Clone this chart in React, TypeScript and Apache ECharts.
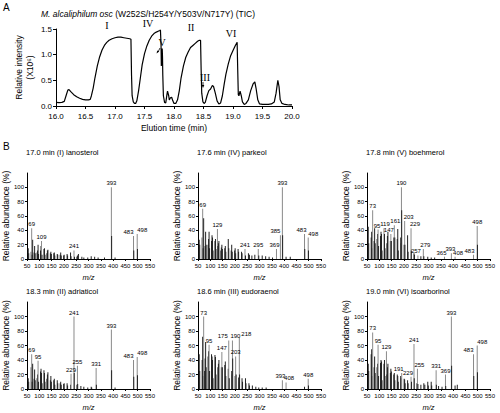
import React, { useEffect, useRef } from "react";
import * as echarts from "echarts";

// ---------- Panel A: TIC ----------
const ticTime = [
  16.0, 16.05, 16.1, 16.14, 16.17, 16.2, 16.22, 16.25, 16.3, 16.35, 16.4, 16.45, 16.5, 16.55, 16.58,
  16.6, 16.63, 16.66, 16.7, 16.74, 16.78, 16.82, 16.86, 16.9, 16.95, 17.0, 17.05, 17.1, 17.15, 17.2,
  17.25, 17.27, 17.28, 17.29, 17.31, 17.33, 17.35, 17.37, 17.4, 17.43, 17.46, 17.5, 17.54, 17.58,
  17.62, 17.66, 17.7, 17.74, 17.76, 17.77, 17.78, 17.785, 17.79, 17.8, 17.805, 17.81, 17.82, 17.84,
  17.86, 17.88, 17.89, 17.91, 17.92, 17.94, 17.96, 17.98, 18.0, 18.03, 18.06, 18.09, 18.12, 18.16,
  18.2, 18.24, 18.28, 18.32, 18.36, 18.4, 18.43, 18.45, 18.46, 18.47, 18.49, 18.51, 18.53, 18.56,
  18.59, 18.62, 18.65, 18.67, 18.7, 18.73, 18.76, 18.79, 18.82, 18.85, 18.88, 18.92, 18.96, 19.0,
  19.04, 19.07, 19.08, 19.09, 19.1, 19.12, 19.14, 19.16, 19.19, 19.22, 19.26, 19.3, 19.34, 19.37,
  19.39, 19.42, 19.45, 19.5, 19.55, 19.6, 19.65, 19.7, 19.73, 19.76, 19.78, 19.8, 19.83, 19.88,
  19.95, 20.0,
];
const ticIntensity = [
  0.07, 0.065, 0.07, 0.09, 0.2, 0.31, 0.32, 0.28, 0.22, 0.18, 0.15, 0.13, 0.12, 0.12, 0.13,
  0.2, 0.35, 0.55, 0.78, 0.96, 1.09, 1.18, 1.24, 1.28, 1.31, 1.33, 1.34, 1.34, 1.33, 1.32,
  1.31, 1.3, 0.6, 0.2, 0.08, 0.05, 0.05, 0.1, 0.3, 0.55, 0.8, 1.02, 1.17, 1.28,
  1.36, 1.41, 1.44, 1.46, 1.47, 1.48, 1.2, 0.78, 0.9, 1.12, 0.95, 0.6, 0.2, 0.07,
  0.06, 0.22, 0.29, 0.2, 0.12, 0.16, 0.17, 0.1, 0.05, 0.05, 0.12, 0.3, 0.55, 0.78,
  0.95, 1.05, 1.14, 1.18, 1.22, 1.26, 1.28, 1.28, 0.7, 0.25, 0.08, 0.05, 0.07, 0.2,
  0.3, 0.33, 0.4, 0.38, 0.25, 0.1, 0.04, 0.06, 0.2, 0.42, 0.62, 0.82, 0.98, 1.08,
  1.18, 1.24, 0.7, 0.22, 0.2, 0.29, 0.2, 0.08, 0.03, 0.05, 0.12, 0.3, 0.43, 0.47,
  0.35, 0.12, 0.04, 0.03, 0.03, 0.03, 0.04, 0.08, 0.25, 0.5, 0.38, 0.12, 0.05, 0.03,
  0.02, 0.02,
];
const ticXTicks = [16, 20, 0.5];
const ticYTicks = [0, 1.5, 0.5];
const peakNames = ["I", "IV", "V", "II", "III", "VI"];

// ---------- Panel B: mass spectra ----------
const lanosterolPeaks: [number, number][] = [
  [55, 15], [57, 8], [67, 10], [69, 43], [71, 6], [73, 27], [79, 9], [81, 18], [83, 8], [91, 9],
  [93, 12], [95, 20], [97, 7], [105, 12], [107, 18], [109, 25], [111, 6], [119, 14], [121, 15],
  [123, 6], [131, 8], [133, 12], [135, 13], [145, 8], [147, 10], [149, 7], [159, 8], [161, 9],
  [163, 5], [173, 7], [175, 6], [185, 6], [187, 9], [189, 5], [199, 5], [201, 6], [213, 7],
  [215, 5], [227, 9], [229, 4], [241, 12], [243, 3], [253, 3], [255, 5], [259, 7], [273, 3],
  [281, 2], [297, 2], [311, 4], [325, 3], [339, 2], [365, 2], [393, 100], [394, 32], [408, 2],
  [483, 32], [484, 12], [498, 35], [499, 14],
];
const lanosterolLabels = [69, 109, 241, 393, 483, 498];

const parkeolPeaks: [number, number][] = [
  [55, 27], [57, 20], [67, 30], [69, 70], [71, 15], [73, 57], [79, 18], [81, 38], [83, 20],
  [91, 20], [93, 28], [95, 38], [97, 15], [105, 25], [107, 33], [109, 30], [111, 12], [119, 25],
  [121, 28], [123, 14], [129, 42], [131, 18], [133, 22], [135, 25], [143, 12], [145, 16],
  [147, 20], [149, 14], [159, 15], [161, 18], [163, 10], [173, 28], [175, 15], [185, 12],
  [187, 20], [189, 10], [199, 12], [201, 15], [203, 8], [213, 14], [215, 10], [227, 10],
  [229, 8], [241, 14], [243, 5], [255, 8], [259, 6], [269, 5], [281, 6], [295, 14], [297, 5],
  [311, 5], [325, 4], [339, 3], [353, 2], [369, 14], [385, 33], [393, 100], [394, 33], [408, 3],
  [425, 3], [483, 35], [484, 14], [498, 30], [499, 12],
];
const parkeolLabels = [69, 129, 241, 295, 369, 385, 393, 483, 498];

const boehmerolPeaks: [number, number][] = [
  [55, 45], [57, 22], [67, 30], [69, 38], [71, 15], [73, 68], [79, 25], [81, 43], [83, 22],
  [91, 28], [93, 35], [95, 41], [97, 18], [105, 32], [107, 38], [109, 35], [111, 12], [119, 43],
  [121, 35], [123, 15], [131, 22], [133, 32], [135, 38], [145, 25], [147, 35], [149, 25],
  [159, 30], [161, 47], [163, 30], [173, 28], [175, 42], [177, 12], [187, 30], [189, 22],
  [190, 100], [191, 68], [201, 20], [203, 53], [204, 20], [215, 33], [217, 10], [229, 43],
  [230, 12], [241, 8], [243, 6], [257, 5], [269, 4], [279, 14], [281, 4], [297, 3], [311, 2],
  [325, 2], [365, 3], [393, 8], [408, 3], [483, 6], [498, 46], [499, 20],
];
const boehmerolLabels = [73, 95, 119, 147, 161, 190, 203, 229, 257, 279, 365, 393, 408, 483, 498];

const adriaticolPeaks: [number, number][] = [
  [55, 15], [57, 10], [67, 30], [69, 48], [71, 10], [73, 35], [79, 14], [81, 27], [83, 12],
  [91, 15], [93, 20], [95, 39], [97, 10], [105, 24], [107, 28], [109, 22], [111, 8], [119, 26],
  [121, 22], [123, 10], [131, 14], [133, 20], [135, 23], [145, 12], [147, 18], [149, 10],
  [159, 12], [161, 14], [163, 6], [173, 12], [175, 8], [185, 8], [187, 10], [189, 6], [199, 7],
  [201, 8], [213, 8], [215, 5], [227, 6], [229, 21], [241, 100], [242, 22], [253, 6], [255, 32],
  [256, 7], [269, 4], [281, 3], [297, 2], [311, 3], [313, 2], [331, 29], [332, 6], [393, 82],
  [394, 26], [408, 2], [483, 40], [484, 17], [498, 44], [499, 19],
];
const adriaticolLabels = [69, 95, 229, 241, 255, 331, 393, 483, 498];

const eudoraenolPeaks: [number, number][] = [
  [55, 48], [57, 25], [67, 40], [69, 72], [71, 18], [73, 100], [77, 25], [79, 42], [81, 65],
  [83, 30], [91, 45], [93, 52], [95, 61], [97, 25], [105, 48], [107, 45], [109, 40], [111, 15],
  [119, 47], [121, 44], [123, 20], [131, 30], [133, 35], [135, 40], [145, 30], [147, 51],
  [149, 30], [159, 33], [161, 38], [163, 18], [173, 28], [175, 67], [177, 15], [187, 25],
  [189, 20], [190, 67], [191, 42], [201, 18], [203, 45], [205, 20], [215, 16], [217, 10],
  [218, 71], [219, 20], [229, 15], [231, 10], [243, 15], [245, 8], [257, 8], [259, 5], [271, 5],
  [285, 3], [297, 2], [311, 2], [327, 2], [393, 12], [408, 9], [483, 3], [498, 14], [499, 5],
];
const eudoraenolLabels = [73, 95, 147, 175, 190, 203, 218, 393, 408, 498];

const isoarborinolPeaks: [number, number][] = [
  [55, 35], [57, 25], [67, 48], [69, 55], [71, 18], [73, 78], [79, 30], [81, 45], [83, 22],
  [91, 30], [93, 35], [95, 61], [97, 18], [105, 36], [107, 40], [109, 38], [111, 12], [119, 35],
  [121, 40], [123, 18], [129, 52], [131, 20], [133, 30], [135, 35], [145, 22], [147, 28],
  [149, 24], [159, 20], [161, 22], [163, 12], [173, 20], [175, 18], [177, 10], [187, 18],
  [189, 15], [191, 22], [201, 14], [203, 13], [205, 8], [215, 12], [217, 8], [229, 17],
  [231, 10], [241, 62], [242, 15], [253, 8], [255, 28], [257, 7], [269, 6], [281, 8], [285, 6],
  [297, 10], [299, 5], [311, 10], [313, 5], [331, 26], [332, 6], [341, 4], [355, 3], [369, 20],
  [370, 4], [393, 100], [394, 32], [408, 5], [417, 6], [483, 48], [484, 18], [498, 60], [499, 23],
];
const isoarborinolLabels = [73, 95, 129, 191, 229, 241, 255, 331, 369, 393, 483, 498];

const spectrumTitles = [
  "17.0 min (I) lanosterol",
  "17.6 min (IV) parkeol",
  "17.8 min (V) boehmerol",
  "18.3 min (II) adriaticol",
  "18.6 min (III) eudoraenol",
  "19.0 min (VI) isoarborinol",
];
const spectrumPeaks = [
  lanosterolPeaks, parkeolPeaks, boehmerolPeaks, adriaticolPeaks, eudoraenolPeaks, isoarborinolPeaks,
];
const spectrumLabels = [
  lanosterolLabels, parkeolLabels, boehmerolLabels, adriaticolLabels, eudoraenolLabels, isoarborinolLabels,
];
const mzTicks = [50, 550, 50];
const abundanceTicks = [0, 20, 40, 60, 80, 100];

// ---------- layout / style (not data) ----------
const SANS = "Liberation Sans, Arial, sans-serif";
const SERIF = "Liberation Serif, Times New Roman, serif";
const panelBoxes = [
  { left: 27, top: 173, width: 123, height: 86, nameGap: 12, titleY: 148 },
  { left: 198, top: 173, width: 123, height: 86, nameGap: 13, titleY: 148 },
  { left: 367, top: 173, width: 123, height: 86, nameGap: 16, titleY: 148 },
  { left: 27, top: 302, width: 123, height: 87, nameGap: 12, titleY: 287 },
  { left: 198, top: 302, width: 123, height: 87, nameGap: 13, titleY: 287 },
  { left: 367, top: 302, width: 123, height: 87, nameGap: 16, titleY: 287 },
];
// per-panel label nudges (pixels), keyed by m/z
const labelNudges: Record<number, [number, number]>[] = [
  { 483: [-5, 0], 498: [5, 0] },
  { 385: [-5, 0], 483: [-3, 0], 498: [5, 0], 369: [-2, 0] },
  { 95: [-1, 0], 119: [1, 0], 147: [-2, 0], 161: [1, 0], 203: [4, 0], 229: [4, 0], 257: [-2, 0], 279: [2, 0], 365: [-3, 0], 393: [-1, 0], 408: [3, 0], 483: [-4, 0] },
  { 483: [-5, 0], 498: [5, 0] },
  { 175: [-6, 0], 190: [3, 0], 203: [0, 0], 218: [7, 0], 393: [-2, 0], 408: [3, 0] },
  { 191: [-3, 0], 229: [-3, 0], 255: [2, 0], 483: [-5, 0], 498: [5, 0] },
];
const numeralPos = [
  [107, 25], [148, 23], [162, 42], [191, 27], [205, 77], [231, 33],
];

const axisLineStyle = { lineStyle: { color: "#000", width: 1 } };

export default function App() {
  const ref = useRef<HTMLDivElement>(null);
  useEffect(() => {
    if (!ref.current) return;
    const chart = echarts.init(ref.current, undefined, { renderer: "svg" });

    const grids: any[] = [{ left: 41, top: 29, width: 251, height: 77 }];
    const xAxes: any[] = [
      {
        gridIndex: 0, type: "value", min: ticXTicks[0], max: ticXTicks[1], interval: ticXTicks[2],
        axisLine: axisLineStyle, axisTick: { length: 3, lineStyle: { color: "#000" } },
        splitLine: { show: false },
        axisLabel: { color: "#000", fontFamily: SANS, fontSize: 8, margin: 6, formatter: (v: number) => v.toFixed(1) },
        name: "Elution time (min)", nameLocation: "middle", nameGap: 17,
        nameTextStyle: { color: "#000", fontFamily: SANS, fontSize: 8.5 },
      },
    ];
    const yAxes: any[] = [
      {
        gridIndex: 0, type: "value", min: ticYTicks[0], max: ticYTicks[1], interval: ticYTicks[2],
        axisLine: { show: true, ...axisLineStyle }, axisTick: { show: true, length: 3, lineStyle: { color: "#000" } },
        splitLine: { show: false },
        axisLabel: { color: "#000", fontFamily: SANS, fontSize: 8, margin: 4, formatter: (v: number) => v.toFixed(1) },
        name: "Relative intensity\n(X10\u2076)", nameLocation: "middle", nameGap: 21, nameRotate: 90,
        nameTextStyle: { color: "#000", fontFamily: SANS, fontSize: 8.5, lineHeight: 11 },
      },
    ];
    const series: any[] = [
      {
        type: "line", xAxisIndex: 0, yAxisIndex: 0, symbol: "none", smooth: false,
        lineStyle: { color: "#000", width: 1.2 },
        data: ticTime.map((t, i) => [t, ticIntensity[i]]),
      },
    ];

    const graphics: any[] = [
      { type: "text", x: 3, y: 2, style: { text: "A", font: `10px ${SANS}`, fill: "#000" } },
      {
        type: "text", x: 41, y: 9,
        style: {
          text: "{i|M. alcaliphilum osc} (W252S/H254Y/Y503V/N717Y) (TIC)",
          fontFamily: SANS, fontSize: 8.5, fill: "#000",
          rich: { i: { fontStyle: "italic", fontFamily: SANS, fontSize: 8.5, fill: "#000" } },
        },
      },
      { type: "text", x: 3, y: 141, style: { text: "B", font: `10px ${SANS}`, fill: "#000" } },
    ];
    peakNames.forEach((n, i) => {
      graphics.push({
        type: "text", x: numeralPos[i][0], y: numeralPos[i][1],
        style: { text: n, font: `10px ${SERIF}`, fill: "#000", align: "center", verticalAlign: "middle" },
      });
    });
    // arrows for V and III
    graphics.push(
      { type: "line", shape: { x1: 160, y1: 48, x2: 158, y2: 52 }, style: { stroke: "#000", lineWidth: 0.8 } },
      { type: "polygon", shape: { points: [[156.6, 53.5], [157.2, 50.6], [159.2, 51.6]] }, style: { fill: "#000" } },
      { type: "line", shape: { x1: 203, y1: 82, x2: 203, y2: 86 }, style: { stroke: "#000", lineWidth: 0.8 } },
      { type: "polygon", shape: { points: [[203, 88], [201.7, 85], [204.3, 85]] }, style: { fill: "#000" } },
    );

    spectrumPeaks.forEach((peaks, k) => {
      const box = panelBoxes[k];
      const gi = k + 1;
      grids.push({ left: box.left, top: box.top, width: box.width, height: box.height });
      xAxes.push({
        gridIndex: gi, type: "value", min: mzTicks[0], max: mzTicks[1], interval: mzTicks[2],
        axisLine: axisLineStyle, axisTick: { length: 2, lineStyle: { color: "#000" } },
        splitLine: { show: false },
        axisLabel: { color: "#000", fontFamily: SANS, fontSize: 6, margin: 4, hideOverlap: false, showMinLabel: true, showMaxLabel: true },
        name: "m/z", nameLocation: "middle", nameGap: 14,
        nameTextStyle: { color: "#000", fontFamily: SANS, fontSize: 7.5, fontStyle: "italic", lineHeight: 8 },
      });
      yAxes.push({
        gridIndex: gi, type: "value", min: 0, max: 120, interval: 20,
        axisLine: { show: true, ...axisLineStyle },
        axisTick: { show: true, length: 2, lineStyle: { color: "#000" }, customValues: abundanceTicks },
        splitLine: { show: false },
        axisLabel: { color: "#000", fontFamily: SANS, fontSize: 6, margin: 3, customValues: abundanceTicks },
        name: "Relative abundance (%)", nameLocation: "middle", nameGap: box.nameGap, nameRotate: 90,
        nameTextStyle: { color: "#000", fontFamily: SANS, fontSize: 8.5 },
      });
      const labelled = spectrumLabels[k];
      const nudges = labelNudges[k];
      series.push({
        type: "bar", xAxisIndex: gi, yAxisIndex: gi, barWidth: 1, barGap: "-100%",
        itemStyle: { color: "#222" },
        label: {
          show: false, position: "top", distance: 1, fontFamily: SANS, fontSize: 6, color: "#000",
          formatter: (p: any) => String(p.value[0]),
        },
        data: peaks.map(([mz, ab]) => {
          const item: any = { value: [mz, ab] };
          if (labelled.includes(mz)) {
            item.label = { show: true, offset: nudges[mz] || [0, 0] };
            item.itemStyle = { color: "#8a8a8a" };
          }
          return item;
        }),
      });
      graphics.push({
        type: "text", x: box.left - 1, y: box.titleY,
        style: { text: spectrumTitles[k], font: `7.5px ${SANS}`, fill: "#000" },
      });
    });

    chart.setOption({
      animation: false,
      backgroundColor: "#fff",
      grid: grids,
      xAxis: xAxes,
      yAxis: yAxes,
      series,
      graphic: graphics,
    });
    return () => chart.dispose();
  }, []);
  return (
    <div
      ref={ref}
      style={{ position: "fixed", left: 0, top: 0, width: 500, height: 413, background: "#fff" }}
    />
  );
}
